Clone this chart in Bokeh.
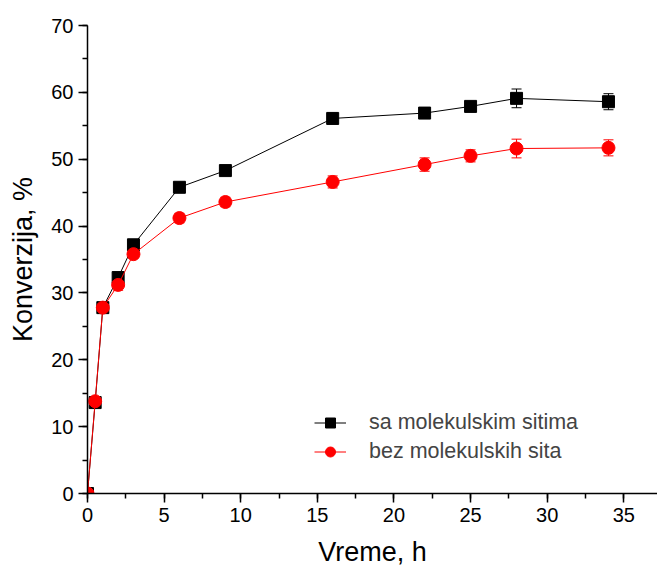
from bokeh.plotting import figure
from bokeh.models import (Whisker, ColumnDataSource, Legend, LegendItem, Range1d,
                          SingleIntervalTicker, TeeHead)
from bokeh.embed import file_html
from bokeh.resources import INLINE

time_h = [0, 0.5, 1, 2, 3, 6, 9, 16, 22, 25, 28, 34]
sa_sitima = [0, 13.6, 27.8, 32.3, 37.2, 45.8, 48.3, 56.1, 56.9, 57.9, 59.1, 58.6]
sa_err = [0, 0.5, 0.6, 0.7, 0.6, 0.7, 0.7, 0.8, 0.8, 0.7, 1.4, 1.2]
bez_sita = [0, 13.8, 27.8, 31.2, 35.8, 41.2, 43.6, 46.6, 49.2, 50.5, 51.6, 51.7]
bez_err = [0, 0.5, 0.6, 0.8, 0.6, 0.7, 0.7, 0.9, 1.0, 0.9, 1.4, 1.2]
label_sa = "sa molekulskim sitima"
label_bez = "bez molekulskih sita"

FONT = "Liberation Sans"

p = figure(width=657, height=569, output_backend="svg", toolbar_location=None,
           x_range=Range1d(0, 37.2), y_range=Range1d(0, 70),
           min_border_left=87, min_border_right=0, min_border_top=25, min_border_bottom=76)
p.outline_line_color = None
p.xgrid.visible = False
p.ygrid.visible = False
p.background_fill_color = "white"
p.border_fill_color = "white"

src_sa = ColumnDataSource(dict(x=time_h, y=sa_sitima,
                               lo=[v - e for v, e in zip(sa_sitima, sa_err)],
                               hi=[v + e for v, e in zip(sa_sitima, sa_err)]))
src_bez = ColumnDataSource(dict(x=time_h, y=bez_sita,
                                lo=[v - e for v, e in zip(bez_sita, bez_err)],
                                hi=[v + e for v, e in zip(bez_sita, bez_err)]))

l1 = p.line("x", "y", source=src_sa, line_color="black", line_width=1)
w1 = Whisker(base="x", upper="hi", lower="lo", source=src_sa, line_color="black", line_width=1,
             upper_head=TeeHead(size=10, line_color="black", line_width=1),
             lower_head=TeeHead(size=10, line_color="black", line_width=1))
p.add_layout(w1)
s1 = p.scatter("x", "y", source=src_sa, marker="square", size=12, fill_color="black",
               line_color="black")

l2 = p.line("x", "y", source=src_bez, line_color="red", line_width=1)
w2 = Whisker(base="x", upper="hi", lower="lo", source=src_bez, line_color="red", line_width=1,
             upper_head=TeeHead(size=10, line_color="red", line_width=1),
             lower_head=TeeHead(size=10, line_color="red", line_width=1))
p.add_layout(w2)
s2 = p.scatter("x", "y", source=src_bez, marker="circle", size=13, fill_color="red",
               line_color="red")

for ax in (p.xaxis[0], p.yaxis[0]):
    ax.axis_line_width = 1.5
    ax.axis_line_color = "black"
    ax.major_tick_line_width = 1.5
    ax.minor_tick_line_width = 1.5
    ax.major_tick_out = 9
    ax.major_tick_in = 0
    ax.minor_tick_out = 5
    ax.minor_tick_in = 0
    ax.major_label_text_font = FONT
    ax.major_label_text_font_size = "20px"
    ax.major_label_text_color = "black"
    ax.axis_label_text_font = FONT
    ax.axis_label_text_font_size = "27px"
    ax.axis_label_text_font_style = "normal"
    ax.axis_label_text_color = "black"

p.xaxis[0].ticker = SingleIntervalTicker(interval=5, num_minor_ticks=2)
p.yaxis[0].ticker = SingleIntervalTicker(interval=10, num_minor_ticks=2)
p.xaxis[0].axis_label = "Vreme, h"
p.yaxis[0].axis_label = "Konverzija, %"
p.xaxis[0].major_label_standoff = 5
p.yaxis[0].major_label_standoff = 5
p.xaxis[0].axis_label_standoff = 12
p.yaxis[0].axis_label_standoff = 10

legend = Legend(items=[LegendItem(label=label_sa, renderers=[l1, s1]),
                       LegendItem(label=label_bez, renderers=[l2, s2])],
                location=(227, 29), border_line_color=None, background_fill_alpha=0,
                padding=0, margin=0, spacing=4, glyph_width=32, glyph_height=25,
                label_standoff=23, label_text_font=FONT, label_text_font_size="21.5px",
                label_height=25)
p.add_layout(legend)

open("out.html", "w").write(file_html(p, INLINE))
